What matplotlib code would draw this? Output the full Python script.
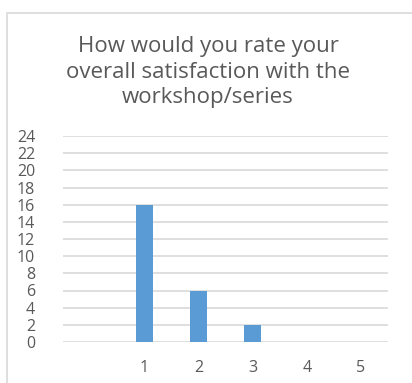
import matplotlib.pyplot as plt
from matplotlib.patches import Rectangle

# ratings (first slot is empty in the original chart)
categories = ["", "1", "2", "3", "4", "5"]
counts = [0, 16, 6, 2, 0, 0]
y_ticks = list(range(0, 25, 2))

title = "How would you rate your\noverall satisfaction with the\nworkshop/series"

plt.rcParams['font.family'] = ['Open Sans', 'DejaVu Sans']

fig = plt.figure(figsize=(4.12, 3.83), dpi=100)
# chart area border, cut off at right and bottom
fig.patches.append(Rectangle((7 / 412, -0.1), 1.2, 1 - 13 / 383 + 0.1,
                             transform=fig.transFigure, fill=False,
                             edgecolor='#d9d9d9', linewidth=1.2))

ax = fig.add_axes([63 / 412, 41 / 383, 325 / 412, 206 / 383])
x = range(len(categories))
ax.bar(x, counts, width=0.31, color='#5b9bd5', zorder=3)

ax.set_xlim(-0.5, len(categories) - 0.5)
ax.set_ylim(0, 24)
ax.set_yticks(y_ticks)
ax.set_xticks(list(x))
ax.set_xticklabels(categories)
ax.yaxis.grid(True, color='#d9d9d9', linewidth=1.2, zorder=0)
ax.set_axisbelow(True)
for s in ax.spines.values():
    s.set_visible(False)
ax.tick_params(axis='both', length=0, labelsize=11.5, colors='#595959')
ax.tick_params(axis='x', pad=13)
ax.tick_params(axis='y', pad=20)

fig.text(208 / 412, 1 - 72 / 383, title, ha='center', va='center',
         fontsize=16, color='#595959', linespacing=1.3)

plt.savefig('out.png', dpi=100)
